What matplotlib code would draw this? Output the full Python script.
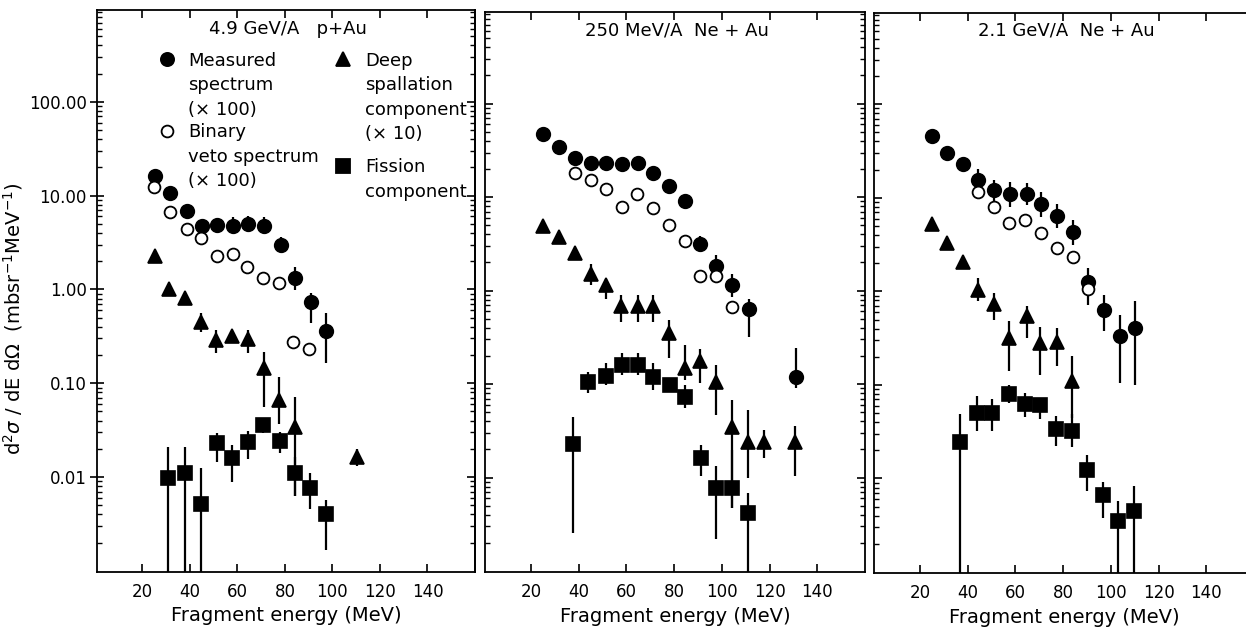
import numpy as np
import matplotlib
matplotlib.use('Agg')
import matplotlib.pyplot as plt
from matplotlib.ticker import LogLocator, NullFormatter, FixedLocator

plt.rcParams['font.family'] = ['DejaVu Sans']
plt.rcParams['mathtext.fontset'] = 'dejavusans'

# ---- 4.9 GeV/A p+Au ----
a_meas_E = [25.3, 31.6, 38.9, 45.0, 51.5, 58.3, 64.6, 71.3, 78.3, 84.2, 91.0, 97.5]
a_meas_y = [16.4, 10.6, 6.9, 4.75, 4.84, 4.75, 5.0, 4.8, 2.98, 1.34, 0.74, 0.364]
a_meas_lo = [16.4, 10.6, 6.9, 4.1, 4.0, 3.9, 4.1, 3.9, 2.43, 0.99, 0.44, 0.163]
a_meas_hi = [16.4, 10.6, 6.9, 5.5, 5.8, 5.9, 6.1, 5.9, 3.66, 1.75, 0.92, 0.56]
a_veto_E = [25.0, 31.6, 38.7, 44.7, 51.5, 58.3, 64.2, 70.9, 77.6, 83.2, 90.2]
a_veto_y = [12.5, 6.76, 4.42, 3.57, 2.28, 2.39, 1.75, 1.34, 1.16, 0.273, 0.23]
a_deep_E = [25.3, 31.4, 38.0, 44.7, 51.0, 57.6, 64.6, 71.3, 77.6, 84.2, 110.2]
a_deep_y = [2.27, 1.0, 0.82, 0.454, 0.289, 0.319, 0.294, 0.144, 0.066, 0.034, 0.0165]
a_deep_lo = [2.27, 1.0, 0.82, 0.35, 0.21, 0.28, 0.21, 0.056, 0.037, 0.0062, 0.013]
a_deep_hi = [2.27, 1.0, 0.82, 0.56, 0.37, 0.36, 0.37, 0.217, 0.117, 0.072, 0.020]
a_fiss_E = [30.9, 38.0, 44.5, 51.3, 57.6, 64.6, 70.9, 77.9, 84.2, 90.5, 97.1]
a_fiss_y = [0.0098, 0.011, 0.0052, 0.0229, 0.0158, 0.0238, 0.0359, 0.0244, 0.0111, 0.0076, 0.0040]
a_fiss_lo = [1e-4, 1e-4, 1e-4, 0.0146, 0.0089, 0.0155, 0.0294, 0.0179, 0.0062, 0.0046, 0.00166]
a_fiss_hi = [0.021, 0.021, 0.0124, 0.0297, 0.022, 0.031, 0.0426, 0.0304, 0.0165, 0.011, 0.0057]

# ---- 250 MeV/A Ne+Au ----
b_meas_E = [24.9, 31.7, 38.5, 45.3, 51.6, 58.0, 64.7, 71.1, 77.8, 84.7, 90.8, 97.5, 104.4, 111.2, 130.9]
b_meas_y = [47.7, 34.4, 26.5, 22.9, 23.0, 22.5, 23.0, 18.3, 13.0, 9.0, 3.16, 1.83, 1.14, 0.628, 0.12]
b_meas_lo = [47.7, 34.4, 26.5, 22.9, 23.0, 22.5, 23.0, 18.3, 13.0, 9.0, 2.58, 1.4, 0.855, 0.32, 0.0904]
b_meas_hi = [47.7, 34.4, 26.5, 22.9, 23.0, 22.5, 23.0, 18.3, 13.0, 9.0, 3.88, 2.38, 1.52, 0.82, 0.241]
b_veto_E = [38.5, 45.0, 51.5, 58.1, 64.5, 71.1, 77.8, 84.4, 90.8, 97.5, 104.2]
b_veto_y = [17.9, 15.2, 12.2, 7.9, 10.9, 7.66, 5.08, 3.43, 1.42, 1.42, 0.66]
b_deep_E = [25.0, 31.7, 38.5, 45.0, 51.4, 57.7, 64.8, 71.3, 77.8, 84.4, 90.8, 97.4, 104.1, 110.9, 117.5, 130.6]
b_deep_y = [4.96, 3.72, 2.54, 1.49, 1.14, 0.68, 0.68, 0.68, 0.348, 0.148, 0.177, 0.106, 0.035, 0.0238, 0.0238, 0.0238]
b_deep_lo = [4.96, 3.72, 2.54, 1.14, 0.82, 0.46, 0.46, 0.46, 0.19, 0.111, 0.102, 0.047, 0.00477, 0.00995, 0.01625, 0.0103]
b_deep_hi = [4.96, 3.72, 2.54, 1.94, 1.34, 0.89, 0.89, 0.89, 0.48, 0.26, 0.24, 0.16, 0.068, 0.0527, 0.0325, 0.0352]
b_fiss_E = [37.7, 44.1, 51.4, 58.1, 64.7, 71.1, 78.1, 84.7, 91.2, 97.4, 104.1, 110.9]
b_fiss_y = [0.0231, 0.104, 0.122, 0.16, 0.16, 0.12, 0.098, 0.0736, 0.0163, 0.0078, 0.0078, 0.0042]
b_fiss_lo = [0.00258, 0.080, 0.098, 0.125, 0.125, 0.0867, 0.098, 0.0553, 0.0103, 0.00219, 0.00477, 1e-4]
b_fiss_hi = [0.045, 0.136, 0.167, 0.213, 0.213, 0.167, 0.098, 0.098, 0.0225, 0.0132, 0.0199, 0.0069]

# ---- 2.1 GeV/A Ne+Au ----
c_meas_E = [24.9, 31.5, 38.0, 44.5, 50.9, 57.9, 64.8, 70.8, 77.6, 84.1, 90.5, 97.2, 103.9, 110.1]
c_meas_y = [46.2, 30.3, 22.7, 15.6, 12.0, 11.1, 11.1, 8.67, 6.4, 4.33, 1.27, 0.635, 0.33, 0.406]
c_meas_lo = [46.2, 30.3, 22.7, 11.5, 9.0, 8.0, 8.3, 6.25, 4.7, 3.13, 0.72, 0.373, 0.105, 0.101]
c_meas_hi = [46.2, 30.3, 22.7, 20.5, 15.4, 14.7, 14.4, 11.5, 8.5, 5.77, 1.77, 0.92, 0.56, 0.78]
c_veto_E = [44.3, 50.9, 57.5, 64.2, 70.8, 77.6, 84.1, 90.6]
c_veto_y = [11.5, 7.98, 5.32, 5.77, 4.22, 2.88, 2.35, 1.05]
c_deep_E = [25.2, 31.5, 38.0, 44.5, 50.9, 57.5, 64.8, 70.5, 77.3, 83.6]
c_deep_y = [5.3, 3.3, 2.07, 1.04, 0.736, 0.318, 0.54, 0.281, 0.285, 0.11]
c_deep_lo = [5.3, 3.3, 2.07, 0.78, 0.498, 0.14, 0.318, 0.129, 0.158, 0.0448]
c_deep_hi = [5.3, 3.3, 2.07, 1.38, 0.957, 0.478, 0.69, 0.42, 0.41, 0.202]
c_fiss_E = [36.8, 43.9, 50.4, 57.2, 63.9, 70.5, 77.1, 83.6, 90.2, 96.9, 103.2, 109.8]
c_fiss_y = [0.0246, 0.0506, 0.0506, 0.079, 0.062, 0.0605, 0.0336, 0.0323, 0.0124, 0.0066, 0.0035, 0.0045]
c_fiss_lo = [1e-4, 0.0323, 0.0323, 0.0635, 0.0459, 0.0436, 0.0223, 0.0215, 0.0074, 0.00378, 1e-4, 1e-4]
c_fiss_hi = [0.0485, 0.076, 0.070, 0.0989, 0.0826, 0.070, 0.0466, 0.0485, 0.0178, 0.00925, 0.0058, 0.00826]

titles = ['4.9 GeV/A   p+Au', '250 MeV/A  Ne + Au', '2.1 GeV/A  Ne + Au']
ytick_vals = [0.01, 0.1, 1, 10, 100]
ytick_labels = ['0.01', '0.10', '1.00', '10.00', '100.00']
xtick_vals = [20, 40, 60, 80, 100, 120, 140]

panels = [
    (a_meas_E, a_meas_y, a_meas_lo, a_meas_hi, a_veto_E, a_veto_y,
     a_deep_E, a_deep_y, a_deep_lo, a_deep_hi, a_fiss_E, a_fiss_y, a_fiss_lo, a_fiss_hi),
    (b_meas_E, b_meas_y, b_meas_lo, b_meas_hi, b_veto_E, b_veto_y,
     b_deep_E, b_deep_y, b_deep_lo, b_deep_hi, b_fiss_E, b_fiss_y, b_fiss_lo, b_fiss_hi),
    (c_meas_E, c_meas_y, c_meas_lo, c_meas_hi, c_veto_E, c_veto_y,
     c_deep_E, c_deep_y, c_deep_lo, c_deep_hi, c_fiss_E, c_fiss_y, c_fiss_lo, c_fiss_hi),
]

W, H = 1246, 629
fig = plt.figure(figsize=(W / 100, H / 100), dpi=100)
# axes boxes in pixels: left, top, right, bottom
boxes = [(96.7, 10, 475, 571.7), (485, 12, 865, 572), (874, 12.5, 1254, 573)]


def errbar(ax, E, y, lo, hi, marker, ms, mfc='k'):
    y = np.array(y)
    err = [y - np.array(lo), np.array(hi) - y]
    ax.errorbar(E, y, yerr=err, fmt=marker, ms=ms, mfc=mfc, mec='k', mew=1.2,
                ecolor='k', elinewidth=1.6, capsize=0, zorder=3)


for i, (box, data) in enumerate(zip(boxes, panels)):
    l, t, r, b = box
    ax = fig.add_axes([l / W, 1 - b / H, (r - l) / W, (b - t) / H])
    (mE, my, mlo, mhi, vE, vy, dE, dy, dlo, dhi, fE, fy, flo, fhi) = data
    ax.set_yscale('log')
    errbar(ax, dE, dy, dlo, dhi, '^', 10.5)
    errbar(ax, fE, fy, flo, fhi, 's', 9.5)
    ax.plot(vE, vy, 'o', ms=8.5, mfc='white', mec='k', mew=1.3, ls='none', zorder=4)
    errbar(ax, mE, my, mlo, mhi, 'o', 9.8)

    ax.set_xlim(0.8, 160)
    ax.set_ylim(10 ** -3.01, 10 ** 2.98)
    ax.xaxis.set_major_locator(FixedLocator(xtick_vals))
    ax.set_xticklabels([str(v) for v in xtick_vals])
    ax.yaxis.set_major_locator(FixedLocator(ytick_vals))
    ax.yaxis.set_minor_locator(LogLocator(base=10, subs=np.arange(2, 10), numticks=20))
    ax.yaxis.set_minor_formatter(NullFormatter())
    ax.tick_params(axis='x', which='major', direction='in', top=True, length=6,
                   width=1.2, labelsize=12, pad=8)
    ax.tick_params(axis='y', which='major', direction='in', right=True, length=6, width=1.2)
    ax.tick_params(axis='y', which='minor', direction='in', right=True, length=3.5, width=1.0)
    if i == 0:
        ax.set_yticklabels(ytick_labels)
        ax.tick_params(axis='y', which='major', direction='inout', length=10,
                       labelsize=12, right=False, pad=2)
        ax.tick_params(axis='y', which='minor', right=False)
        sec = ax.secondary_yaxis('right', functions=(lambda v: v, lambda v: v))
        sec.yaxis.set_major_locator(FixedLocator(ytick_vals))
        sec.yaxis.set_minor_locator(LogLocator(base=10, subs=np.arange(2, 10), numticks=20))
        sec.yaxis.set_major_formatter(NullFormatter())
        sec.yaxis.set_minor_formatter(NullFormatter())
        sec.tick_params(axis='y', which='major', direction='in', length=6, width=1.2)
        sec.tick_params(axis='y', which='minor', direction='in', length=3.5, width=1.0)
        sec.spines['right'].set_linewidth(1.3)
        ax.set_ylabel(r'd$^2\sigma$ / dE d$\Omega$  (mbsr$^{-1}$MeV$^{-1}$)',
                      fontsize=14)
        ax.yaxis.set_label_coords(-0.19, 0.45)
    else:
        ax.set_yticklabels([])
    for s in ax.spines.values():
        s.set_linewidth(1.3)
    ax.set_xlabel('Fragment energy (MeV)', fontsize=14, labelpad=4)
    ax.text(0.505, 0.967, titles[i], transform=ax.transAxes, ha='center', va='center',
            fontsize=13)

    if i == 0:
        # legend drawn by hand so the keys sit on the first text line
        keys = [('o', 'k', 0.185, 0.912, 0.242, 'Measured\nspectrum\n(\u00d7 100)'),
                ('o', 'white', 0.185, 0.785, 0.242, 'Binary\nveto spectrum\n(\u00d7 100)'),
                ('^', 'k', 0.652, 0.912, 0.709, 'Deep\nspallation\ncomponent\n(\u00d7 10)'),
                ('s', 'k', 0.652, 0.723, 0.709, 'Fission\ncomponent')]
        for mk, fc, kx, ky, tx, lab in keys:
            ax.plot([kx], [ky], mk, transform=ax.transAxes, ms=9.5 if fc == 'k' else 8.5,
                    mfc=fc, mec='k', mew=1.3, clip_on=False)
            ax.text(tx, ky + 0.013, lab, transform=ax.transAxes, ha='left', va='top',
                    fontsize=13, linespacing=1.45)

fig.savefig('out.png', dpi=100)
